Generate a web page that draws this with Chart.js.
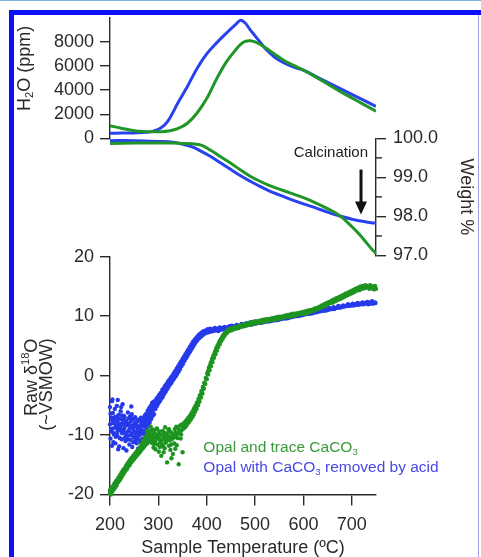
<!DOCTYPE html>
<html><head><meta charset="utf-8">
<script src="https://cdn.jsdelivr.net/npm/chart.js@4/dist/chart.umd.min.js"></script>
<style>
html,body{margin:0;padding:0;background:#fff;}
#wrap{position:relative;width:481px;height:557px;overflow:hidden;background:#fff;}
#wrap canvas{position:absolute;left:0;top:0;}
#topline{position:absolute;left:0;top:0;width:481px;height:1px;background:#7fb0dc;}
#frame{position:absolute;left:9px;top:10px;width:480px;height:560px;border-left:5px solid #0c10f5;border-top:5px solid #0c10f5;}
#rline{position:absolute;left:478px;top:15px;width:1px;height:542px;background:#a0a0f0;}
</style></head>
<body><div id="wrap"><div id="topline"></div><div id="frame"></div><div id="rline"></div>
<canvas id="cA" width="481" height="557"></canvas>
<canvas id="cB" width="481" height="557"></canvas>
<canvas id="cC" width="481" height="557"></canvas>
</div>
<script>
// ---------- data ----------
const xTicks = [200, 300, 400, 500, 600, 700];
const h2oTicks = [0, 2000, 4000, 6000, 8000];
const weightTicks = [97, 98, 99, 100];
const weightMinor = [97.5, 98.5, 99.5];
const d18Ticks = [-20, -10, 0, 10, 20];

const h2oT =     [200, 225, 250, 275, 290, 305, 320, 340, 360, 380, 400, 420, 440, 460, 470, 480, 490, 500, 510, 520, 540, 560, 580, 600, 625, 650, 675, 700, 725, 750];
const h2oBlue =  [420, 430, 450, 500, 600, 850, 1450, 2900, 4300, 5800, 7000, 7900, 8700, 9450, 9800, 9550, 9000, 8500, 8000, 7500, 6750, 6250, 5900, 5650, 5150, 4650, 4150, 3650, 3150, 2650];
const h2oGreen = [1050, 820, 620, 550, 540, 545, 600, 800, 1250, 2100, 3300, 4900, 6300, 7350, 7800, 8050, 8100, 8000, 7800, 7550, 7000, 6450, 6050, 5650, 5100, 4500, 3900, 3350, 2800, 2250];

const wtT =     [200, 250, 300, 330, 350, 370, 390, 410, 430, 450, 470, 490, 510, 530, 550, 575, 600, 625, 650, 675, 700, 715, 730, 740, 750];
const wtBlue =  [99.94, 99.94, 99.92, 99.90, 99.85, 99.78, 99.66, 99.52, 99.36, 99.20, 99.04, 98.90, 98.77, 98.65, 98.55, 98.43, 98.32, 98.22, 98.11, 98.01, 97.93, 97.89, 97.86, 97.84, 97.83];
const wtGreen = [99.87, 99.88, 99.88, 99.88, 99.87, 99.86, 99.82, 99.68, 99.52, 99.36, 99.19, 99.03, 98.90, 98.79, 98.70, 98.59, 98.48, 98.35, 98.20, 98.02, 97.74, 97.55, 97.33, 97.18, 97.05];

const blueD18 = [
[200,-5.3],[200,-8.2],[201,-10.6],[203,-7.1],[203,-9.4],[204,-4.3],[206,-8.9],[206,-6.3],[207,-11.2],
[209,-9.7],[209,-7.5],[210,-5.6],[212,-8.4],[212,-10.3],[213,-6.9],[215,-7.8],[215,-10.0],[216,-4.1],
[218,-6.6],[218,-8.7],[219,-11.9],[221,-9.2],[221,-7.3],[222,-6.0],[224,-8.1],[224,-10.7],[225,-6.7],
[227,-9.5],[227,-8.0],[228,-12.2],[230,-8.8],[230,-7.0],[231,-10.4],[233,-7.6],[233,-9.9],[234,-12.6],
[236,-10.1],[236,-8.3],[237,-6.2],[239,-9.3],[239,-7.2],[240,-11.6],[242,-8.6],[242,-10.8],[243,-7.7],
[245,-9.8],[245,-6.5],[246,-12.0],[248,-9.0],[248,-11.2],[249,-7.4],[251,-10.3],[251,-8.1],[252,-9.5],
[254,-7.9],[254,-9.7],[255,-11.4],[257,-8.7],[257,-10.5],[258,-12.3],[260,-9.1],[260,-7.6],[261,-10.9],
[263,-8.3],[263,-9.9],[264,-7.1],[266,-7.7],[266,-9.2],[267,-10.6],[269,-7.2],[269,-8.5],[270,-9.8],
[272,-6.7],[272,-8.1],[273,-9.3],[275,-6.4],[275,-7.5],[276,-9.0],[278,-5.9],[278,-7.1],[279,-8.4],
[281,-5.5],[281,-6.6],[282,-7.9],[284,-5.1],[284,-6.2],[285,-7.3],[287,-4.6],[287,-5.8],[288,-6.8],
[290,-4.4],[290,-5.4],[291,-6.5],
[201,-6.4],[202,-9.0],[204,-11.8],[205,-7.6],[207,-8.0],[208,-9.9],[210,-7.0],[211,-11.4],[213,-8.8],[214,-5.1],
[216,-9.3],[217,-7.2],[219,-8.1],[220,-10.5],[222,-8.6],[223,-5.3],[225,-9.7],[226,-7.4],[228,-9.1],[229,-6.8],
[231,-8.3],[232,-11.0],[234,-7.9],[235,-9.5],[237,-10.7],[238,-8.1],[240,-9.0],[241,-6.9],[243,-10.0],[244,-8.4],
[246,-7.2],[247,-9.6],[249,-10.4],[250,-8.6],[252,-7.0],[253,-10.9],[255,-8.4],[256,-9.3],[258,-7.4],[259,-10.1],
[261,-8.8],[262,-9.6],[264,-11.3],[265,-8.5],[267,-7.9],[268,-9.4],[270,-8.0],[271,-7.4],[273,-8.6],[274,-7.0],
[276,-8.2],[277,-6.6],[279,-7.7],[280,-6.2],[282,-7.1],[283,-5.8],[285,-6.5],[286,-5.3],[288,-6.0],[289,-4.9],
[205,-4.0],[226,-4.8],[244,-5.2],[217,-12.4],
[293,-4.3],[294,-5.6],[296,-3.9],[297,-5.1],[299,-3.6],[300,-4.7],[302,-3.2],[303,-4.3],[305,-2.9],[306,-3.9],
[308,-2.4],[309,-3.6],[311,-2.1],[312,-3.1],[314,-1.7],[315,-2.7],[317,-1.4],[318,-2.3],[320,-1.0],[321,-1.9],
[323,-0.7],[324,-1.5],[326,-0.3],[327,-1.2],[329,0.0],[330,-0.8],[332,0.4],[333,-0.4],[335,0.8],[336,-0.1],
[338,1.2],[339,0.3],[341,1.6],[342,0.7],[344,2.0],[345,1.1],[347,2.4],[348,1.6],[350,2.8],[351,2.0],
[353,3.2],[354,2.5],[356,3.6],[357,2.9],[359,4.0],[360,3.3],[362,4.4],[363,3.7],[365,4.8],[366,4.1],
[368,5.2],[369,4.5],[371,5.6],[372,4.9],[374,5.9],[375,5.3],[377,6.2],[378,5.7],[380,6.5],[381,6.0],
[383,6.8],[384,6.3],[386,7.0],[387,6.5],[389,7.2],[390,6.7],[392,7.4],[393,6.9],[395,7.5],[396,7.1],
[398,7.6],[399,7.2],
[292,-5.0],[295,-4.4],[298,-4.1],[301,-3.8],[304,-3.4],[307,-3.0],[310,-2.6],[313,-2.3],[316,-1.9],[319,-1.5],
[322,-1.2],[325,-0.9],[328,-0.5],[331,-0.1],[334,0.2],[337,0.6],[340,1.0],[343,1.4],[346,1.8],[349,2.2],
[352,2.6],[355,3.0],[358,3.5],[361,3.8],[364,4.2],[367,4.7],[370,5.1],[373,5.4],[376,5.8],[379,6.1],
[382,6.4],[385,6.6],[388,6.9],[391,7.0],[394,7.2],[397,7.3],[400,7.5],
[402,7.8],[404,7.3],[407,7.9],[409,7.4],[412,7.8],[414,7.5],[417,8.0],[419,7.6],[422,7.9],[424,7.5],
[427,8.1],[429,7.7],[432,8.0],[434,7.8],[437,8.2],[439,7.8],[442,8.1],[444,7.9],[447,8.3],[449,7.9],
[452,8.4],[454,8.0],[457,8.3],[459,8.1],[462,8.5],[464,8.2],[467,8.4],[469,8.3],[472,8.7],[474,8.3],
[477,8.6],[479,8.4],[482,8.8],[484,8.5],[487,8.7],[489,8.6],[492,9.0],[494,8.6],[497,8.9],[499,8.7],
[502,9.1],[504,8.8],[507,9.0],[509,8.9],[512,9.2],[514,8.9],[517,9.3],[519,9.0],[522,9.2],[524,9.1],
[527,9.4],[529,9.1],[532,9.5],[534,9.2],[537,9.4],[539,9.3],[542,9.6],[544,9.3],[547,9.5],[549,9.4],
[552,9.8],[554,9.5],[557,9.7],[559,9.6],[562,9.9],[564,9.6],[567,9.8],[569,9.7],[572,10.1],[574,9.8],
[577,10.0],[579,9.9],[582,10.2],[584,10.0],[587,10.1],[589,10.0],[592,10.4],[594,10.1],[597,10.3],[599,10.2],
[602,10.5],[604,10.3],[607,10.4],[609,10.4],[612,10.7],[614,10.4],[617,10.6],[619,10.5],[622,10.9],[624,10.6],
[627,10.8],[629,10.7],[632,11.0],[634,10.8],[637,10.9],[639,10.9],[642,11.2],[644,10.9],[647,11.1],[649,11.0],
[652,11.4],[654,11.1],[657,11.3],[659,11.2],[662,11.5],[664,11.2],[667,11.4],[669,11.4],[672,11.7],[674,11.4],
[677,11.6],[679,11.5],[682,11.8],[684,11.6],[687,11.7],[689,11.7],[692,12.0],[694,11.7],[697,11.9],[699,11.8],
[702,12.1],[704,11.8],[707,12.0],[709,11.9],[712,12.2],[714,11.9],[717,12.1],[719,12.0],[722,12.3],[724,12.0],
[727,12.2],[729,12.1],[732,12.4],[734,12.0],[737,12.3],[739,12.1],[742,12.5],[744,12.1],[747,12.3],[749,12.2]
];

const greenD18 = [
[200,-19.8],[201,-19.2],[202,-20.0],[203,-19.0],[205,-19.5],[206,-18.6],[208,-19.1],[209,-18.2],[211,-18.8],[212,-17.8],
[214,-18.4],[215,-17.5],[217,-17.9],[218,-17.1],[220,-17.6],[221,-16.7],[223,-17.2],[224,-16.3],[226,-16.8],[227,-15.9],
[229,-16.4],[230,-15.6],[232,-16.0],[233,-15.2],[235,-15.7],[236,-14.8],[238,-15.3],[239,-14.5],[241,-15.0],[242,-14.1],
[244,-14.6],[245,-13.8],[247,-14.3],[248,-13.5],[250,-14.0],[251,-13.2],[253,-13.7],[254,-12.9],[256,-13.4],[257,-12.6],
[259,-13.1],[260,-12.3],[262,-12.8],[263,-11.9],[265,-12.5],[266,-11.4],[268,-12.2],[269,-10.9],[271,-11.9],[272,-10.5],
[274,-11.6],[275,-10.2],[277,-11.4],[278,-9.8],[280,-11.1],[281,-9.5],[283,-10.9],[284,-9.3],[286,-11.3],[287,-9.0],
[289,-10.7],[290,-12.1],
[200,-19.3],[202,-19.4],[204,-18.9],[207,-18.7],[210,-18.4],[213,-18.0],[216,-17.6],[219,-17.3],[222,-16.9],[225,-16.5],
[228,-16.2],[231,-15.8],[234,-15.4],[237,-15.0],[240,-14.7],[243,-14.3],[246,-14.0],[249,-13.7],[252,-13.4],[255,-13.1],
[258,-12.8],[261,-12.5],[264,-12.2],[267,-11.9],[270,-11.6],[273,-11.3],[276,-11.0],[279,-10.6],[282,-10.3],[285,-10.1],
[288,-9.9],[291,-10.4],
[292,-9.6],[293,-11.0],[294,-12.4],[296,-10.2],[297,-8.9],[298,-11.6],[300,-10.5],[301,-12.8],[302,-9.4],[304,-11.2],
[305,-10.0],[306,-13.5],[308,-10.8],[309,-9.3],[310,-11.9],[312,-10.4],[313,-12.2],[314,-9.7],[316,-11.0],[317,-10.1],
[318,-14.6],[320,-10.6],[321,-9.2],[322,-11.8],[324,-10.3],[325,-12.5],[326,-9.5],[328,-10.7],[329,-9.9],[330,-13.2],
[332,-10.1],[333,-11.4],[334,-9.0],[336,-10.2],[337,-8.6],[338,-11.7],[340,-9.8],[341,-8.9],[342,-14.9],[344,-9.5],
[345,-8.4],[346,-10.6],[348,-9.2],[349,-8.2],[350,-12.9],
[291,-11.5],[295,-10.8],[299,-9.9],[303,-10.7],[307,-11.5],[311,-10.0],[315,-11.3],[319,-9.8],[323,-10.9],[327,-11.6],
[331,-10.4],[335,-9.6],[339,-10.5],[343,-9.3],[347,-9.9],[303,-12.0],[311,-12.9],[327,-13.9],[335,-12.3],[296,-9.0],
[314,-8.7],[322,-9.0],[289,-9.2],[284,-8.6],[276,-9.3],
[352,-8.9],[353,-8.0],[355,-8.7],[356,-7.7],[358,-8.4],[359,-7.4],[361,-8.0],[362,-7.1],[364,-7.7],[365,-6.8],
[367,-7.4],[368,-6.4],[370,-7.0],[371,-6.0],[373,-6.6],[374,-5.5],[376,-6.1],[377,-5.0],[379,-5.6],[380,-4.5],
[382,-5.0],[383,-3.9],[385,-4.4],[386,-3.3],[388,-3.7],[389,-2.6],[391,-3.0],[392,-1.9],[394,-2.2],[395,-1.2],
[397,-1.4],[398,-0.4],[400,-0.6],[401,0.3],[403,0.2],[404,1.0],[406,0.9],[407,1.7],[409,1.6],[410,2.4],
[412,2.3],[413,3.1],[415,3.0],[416,3.7],[418,3.6],[419,4.3],[421,4.2],[422,4.9],[424,4.8],[425,5.4],
[427,5.3],[428,5.9],[430,5.8],[431,6.3],[433,6.2],[434,6.7],[436,6.6],[437,7.0],[439,7.0],[440,7.3],
[442,7.2],[444,7.6],[446,7.5],[448,7.8],
[351,-8.5],[354,-8.3],[357,-8.0],[360,-7.7],[363,-7.4],[366,-7.1],[369,-6.7],[372,-6.3],[375,-5.8],[378,-5.3],
[381,-4.8],[384,-4.2],[387,-3.5],[390,-2.8],[393,-2.1],[396,-1.3],[399,-0.5],[402,0.6],[405,1.4],[408,2.1],
[411,2.8],[414,3.4],[417,4.0],[420,4.6],[423,5.1],[426,5.6],[429,6.1],[432,6.5],[435,6.9],[438,7.2],
[441,7.4],[443,7.5],[445,7.7],[447,7.6],[449,7.9],
[451,7.6],[453,8.0],[456,7.8],[458,8.1],[461,7.9],[463,8.2],[466,8.0],[468,8.4],[471,8.2],[473,8.5],
[476,8.3],[478,8.6],[481,8.4],[483,8.7],[486,8.5],[488,8.9],[491,8.6],[493,9.0],[496,8.7],[498,9.1],
[501,8.8],[503,9.1],[506,8.9],[508,9.2],[511,9.0],[513,9.3],[516,9.0],[518,9.4],[521,9.1],[523,9.5],
[526,9.2],[528,9.5],[531,9.3],[533,9.6],[536,9.4],[538,9.7],[541,9.4],[543,9.8],[546,9.5],[548,9.9],
[551,9.6],[553,9.9],[556,9.7],[558,10.0],[561,9.8],[563,10.1],[566,9.9],[568,10.2],[571,9.9],[573,10.3],
[576,10.0],[578,10.4],[581,10.1],[583,10.4],[586,10.2],[588,10.5],[591,10.3],[593,10.6],[596,10.4],[598,10.7],
[601,10.4],[603,10.8],[606,10.5],[608,10.9],[611,10.6],[613,11.0],[616,10.8],[618,11.1],[621,10.9],[623,11.3],
[626,11.1],[628,11.4],[631,11.2],[633,11.6],[636,11.4],[638,11.8],[641,11.6],[643,12.0],[646,11.8],[648,12.2],
[651,12.0],[653,12.4],[656,12.2],[658,12.6],[661,12.3],[663,12.8],[666,12.5],[668,13.0],[671,12.7],[673,13.2],
[676,12.9],[678,13.4],[681,13.1],[683,13.6],[686,13.3],[688,13.8],[691,13.5],[693,14.0],[696,13.7],[698,14.2],
[701,13.9],[703,14.4],[706,14.1],[708,14.6],[711,14.3],[713,14.8],[716,14.4],[718,15.0],[721,14.6],[723,15.1],
[726,14.7],[728,15.2],[731,14.8],[733,15.1],[736,14.6],[738,15.2],[741,14.7],[743,15.0],[746,14.5],[748,15.1],[750,14.6]
];

// ---------- style ----------
const FONT = '"Liberation Sans", Arial, Helvetica, sans-serif';
const AX = '#2a2a2a';
const BLUE = 'rgb(40,66,240)';
const GREEN = 'rgb(32,150,40)';
const BLUE_PT = 'rgb(38,58,235)';
const GREEN_PT = 'rgb(30,148,32)';
Chart.defaults.font.family = FONT;
Chart.defaults.color = AX;

function richText(ctx, parts, x, y, rot, size, color, center) {
  ctx.save();
  ctx.translate(x, y);
  ctx.rotate(rot);
  ctx.fillStyle = color;
  ctx.textBaseline = 'middle';
  ctx.textAlign = 'left';
  const sz = parts.map(p => p.s ? size * 0.62 : size);
  let w = 0;
  parts.forEach((p, i) => { ctx.font = sz[i] + 'px ' + FONT; w += ctx.measureText(p.t).width; });
  let cx = center ? -w / 2 : 0;
  parts.forEach((p, i) => {
    ctx.font = sz[i] + 'px ' + FONT;
    const dy = p.s === 1 ? -size * 0.36 : (p.s === -1 ? size * 0.3 : 0);
    ctx.fillText(p.t, cx, dy);
    cx += ctx.measureText(p.t).width;
  });
  ctx.restore();
}

function axisCommon(tickLen, padding, fmt) {
  return {
    grid: { drawOnChartArea: false, drawTicks: true, tickLength: tickLen, color: AX, lineWidth: 1.4 },
    border: { display: true, color: AX, width: 1.4 },
    ticks: { font: { size: 18 }, color: AX, padding: padding, callback: fmt }
  };
}
const plain = v => String(v);
const baseOpts = {
  responsive: false, animation: false, devicePixelRatio: 1,
  plugins: { legend: { display: false }, tooltip: { enabled: false } }
};

// ---------- chart A: H2O ----------
const yA = axisCommon(10, 6, plain);
new Chart(document.getElementById('cA'), {
  type: 'line',
  data: { datasets: [
    { data: h2oT.map((t, i) => ({ x: t, y: h2oGreen[i] })), borderColor: GREEN, borderWidth: 3, pointRadius: 0, tension: 0.35, fill: false },
    { data: h2oT.map((t, i) => ({ x: t, y: h2oBlue[i] })), borderColor: BLUE, borderWidth: 3, pointRadius: 0, tension: 0.35, fill: false }
  ]},
  options: Object.assign({}, baseOpts, {
    layout: { padding: { left: 50, right: 105, top: 17.8, bottom: 557 - 138.3 } },
    scales: {
      x: { type: 'linear', min: 200, max: 750, display: false },
      y: Object.assign(yA, { min: 0, max: 10000, position: 'left',
        afterFit(s) { s.width = 60; },
        afterBuildTicks(s) { s.ticks = h2oTicks.map(v => ({ value: v })); } })
    }
  }),
  plugins: [{ id: 'h2oTitle', afterDraw(chart) {
    const ys = chart.scales.y;
    richText(chart.ctx, [{ t: 'H' }, { t: '2', s: -1 }, { t: 'O (ppm)' }], chart.chartArea.left - 85, ys.getPixelForValue(5800), -Math.PI / 2, 18, AX, true);
  }}]
});

// ---------- chart B: weight ----------
const yB = axisCommon(10, 7, v => Number(v).toFixed(1));
new Chart(document.getElementById('cB'), {
  type: 'line',
  data: { datasets: [
    { data: wtT.map((t, i) => ({ x: t, y: wtGreen[i] })), borderColor: GREEN, borderWidth: 3, pointRadius: 0, tension: 0.35, fill: false },
    { data: wtT.map((t, i) => ({ x: t, y: wtBlue[i] })), borderColor: BLUE, borderWidth: 3, pointRadius: 0, tension: 0.35, fill: false }
  ]},
  options: Object.assign({}, baseOpts, {
    layout: { padding: { left: 110, right: 4, top: 138.3, bottom: 557 - 255.5 } },
    scales: {
      x: { type: 'linear', min: 200, max: 750, display: false },
      y: Object.assign(yB, { min: 97, max: 100, position: 'right',
        afterFit(s) { s.width = 101; },
        afterBuildTicks(s) { s.ticks = weightTicks.map(v => ({ value: v })); },
        title: { display: true, text: 'Weight %', font: { size: 18 }, color: AX, padding: { top: 0, bottom: 0 } } })
    }
  }),
  plugins: [{ id: 'calc', afterDraw(chart) {
    const ctx = chart.ctx, xs = chart.scales.x, ys = chart.scales.y;
    ctx.save();
    ctx.strokeStyle = AX; ctx.lineWidth = 1.4;
    const r = chart.chartArea.right;
    weightMinor.forEach(v => { const py = ys.getPixelForValue(v); ctx.beginPath(); ctx.moveTo(r, py); ctx.lineTo(r + 6, py); ctx.stroke(); });
    ctx.fillStyle = '#222';
    ctx.font = '15px ' + FONT; ctx.textBaseline = 'middle'; ctx.textAlign = 'left';
    ctx.fillText('Calcination', xs.getPixelForValue(580), ys.getPixelForValue(99.63));
    const ax = xs.getPixelForValue(719), y0 = ys.getPixelForValue(99.2), y1 = ys.getPixelForValue(98.05);
    ctx.strokeStyle = '#111'; ctx.lineWidth = 3;
    ctx.beginPath(); ctx.moveTo(ax, y0); ctx.lineTo(ax, y1 - 10); ctx.stroke();
    ctx.fillStyle = '#111';
    ctx.beginPath(); ctx.moveTo(ax - 6, y1 - 13); ctx.lineTo(ax + 6, y1 - 13); ctx.lineTo(ax, y1); ctx.closePath(); ctx.fill();
    ctx.restore();
  }}]
});

// ---------- chart C: delta 18O ----------
const yC = axisCommon(10, 6, plain);
const xC = axisCommon(11, 9, plain);
new Chart(document.getElementById('cC'), {
  type: 'scatter',
  data: { datasets: [
    { data: greenD18.map(p => ({ x: p[0], y: p[1] })), backgroundColor: GREEN_PT, borderWidth: 0, pointRadius: 2.2, clip: false },
    { data: blueD18.map(p => ({ x: p[0], y: p[1] })), backgroundColor: BLUE_PT, borderWidth: 0, pointRadius: 2.2, clip: false }
  ]},
  options: Object.assign({}, baseOpts, {
    layout: { padding: { left: 50, right: 105, top: 256.7, bottom: 0 } },
    scales: {
      x: Object.assign(xC, { type: 'linear', min: 200, max: 750, position: 'bottom',
        afterFit(s) { s.height = 557 - 494.5; },
        afterBuildTicks(s) { s.ticks = xTicks.map(v => ({ value: v })); },
        title: { display: true, text: 'Sample Temperature (ºC)', font: { size: 18, lineHeight: 1 }, color: AX, padding: { top: 0, bottom: 0 } } }),
      y: Object.assign(yC, { min: -20, max: 20, position: 'left',
        afterFit(s) { s.width = 60; },
        afterBuildTicks(s) { s.ticks = d18Ticks.map(v => ({ value: v })); } })
    }
  }),
  plugins: [{ id: 'd18Text', afterDraw(chart) {
    const ctx = chart.ctx, xs = chart.scales.x, ys = chart.scales.y;
    const L = chart.chartArea.left;
    richText(ctx, [{ t: 'Raw δ' }, { t: '18', s: 1 }, { t: 'O' }], L - 78, ys.getPixelForValue(-0.3), -Math.PI / 2, 18, AX, true);
    richText(ctx, [{ t: '(~VSMOW)' }], L - 63, ys.getPixelForValue(-1.5), -Math.PI / 2, 18, AX, true);
    const lx = xs.getPixelForValue(393);
    richText(ctx, [{ t: 'Opal and trace CaCO' }, { t: '3', s: -1 }], lx, ys.getPixelForValue(-12.1), 0, 15.5, 'rgb(58,154,58)', false);
    richText(ctx, [{ t: 'Opal with CaCO' }, { t: '3', s: -1 }, { t: ' removed by acid' }], lx, ys.getPixelForValue(-15.5), 0, 15.5, 'rgb(72,72,230)', false);
  }}]
});
</script>
</body></html>
